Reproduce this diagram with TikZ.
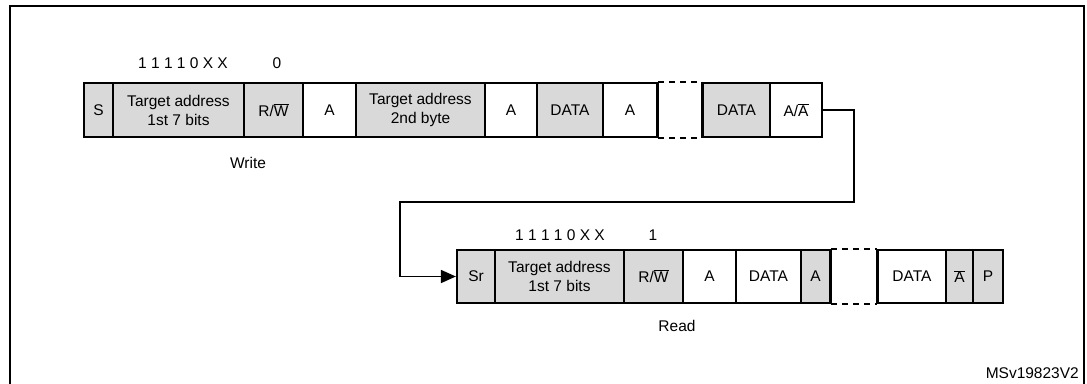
\documentclass[tikz,border=0pt]{standalone}
\usepackage{fontspec}
\setmainfont{Liberation Sans}
\usetikzlibrary{arrows.meta}
\definecolor{boxgray}{RGB}{217,217,217}
\tikzset{
  field/.style={draw=black, line width=2.2pt, inner sep=0pt, align=center,
    font=\fontsize{15.5}{19}\selectfont, text=black},
  gfield/.style={field, fill=boxgray},
  wfield/.style={field, fill=white},
  row1/.style={minimum height=54pt},
  row2/.style={minimum height=53pt},
  lbl/.style={inner sep=0pt, font=\fontsize{15.5}{18}\selectfont, text=black},
  gapline/.style={line width=1.6pt, dash pattern=on 6pt off 5pt},
  edge/.style={line width=2.2pt},
  conn/.style={line width=1.7pt},
  frameline/.style={line width=2.8pt}
}
\begin{document}
\begin{tikzpicture}[x=1pt, y=-1pt]
\useasboundingbox (0,0) rectangle (1087,383);
% frame
\draw[frameline] (10,400) -- (10,6) -- (1084,6) -- (1084,400);
% row 1 (Write)
\node[gfield,row1,minimum width=29pt]  (s)   at (98.5,110) {S};
\node[gfield,row1,minimum width=131pt] (t1)  at (178.5,110) {Target address\\1st 7 bits};
\node[gfield,row1,minimum width=59pt]  (rw1) at (273.5,110) {R/$\overline{\hbox{W}}$};
\node[wfield,row1,minimum width=53pt]  (a1)  at (329.5,110) {A};
\node[gfield,row1,minimum width=129pt] (t2)  at (420.5,110) {Target address\\2nd byte};
\node[wfield,row1,minimum width=52pt]  (a2)  at (511,110) {A};
\node[gfield,row1,minimum width=66pt]  (d1)  at (570,110) {DATA};
\node[wfield,row1,minimum width=54pt]  (a3)  at (630,110) {A};
\node[gfield,row1,minimum width=67pt]  (d2)  at (736.5,110) {DATA};
\node[wfield,row1,minimum width=52pt]  (aa)  at (796,110) {A/$\overline{\hbox{A}}$};
\draw[gapline] (a3.north east) -- (d2.north west);
\draw[gapline] (a3.south east) -- (d2.south west);
\draw[edge] (a3.north east) -- (a3.south east);
\draw[edge] (d2.north west) -- (d2.south west);
\node[lbl] (bits1) at (183,63) {1 1 1 1 0 X X};
\node[lbl] (zero)  at (277,63) {0};
\node[lbl] (write) at (248,163) {Write};
% row 2 (Read)
\node[gfield,row2,minimum width=38pt]  (sr)  at (476,276.5) {Sr};
\node[gfield,row2,minimum width=129pt] (t3)  at (559.5,276.5) {Target address\\1st 7 bits};
\node[gfield,row2,minimum width=59pt]  (rw2) at (653.5,276.5) {R/$\overline{\hbox{W}}$};
\node[wfield,row2,minimum width=53pt]  (a4)  at (709.5,276.5) {A};
\node[wfield,row2,minimum width=65pt]  (d3)  at (768.5,276.5) {DATA};
\node[gfield,row2,minimum width=29pt]  (a5)  at (815.5,276.5) {A};
\node[wfield,row2,minimum width=68pt]  (d4)  at (912,276.5) {DATA};
\node[gfield,row2,minimum width=27pt]  (na)  at (959.5,276.5) {$\overline{\hbox{A}}$};
\node[gfield,row2,minimum width=30pt]  (p)   at (988,276.5) {P};
\draw[gapline] (a5.north east) -- (d4.north west);
\draw[gapline] (a5.south east) -- (d4.south west);
\draw[edge] (a5.north east) -- (a5.south east);
\draw[edge] (d4.north west) -- (d4.south west);
\node[lbl] (bits2) at (560,235) {1 1 1 1 0 X X};
\node[lbl] (one)   at (653,235) {1};
\node[lbl] (read)  at (677,326) {Read};
% connector
\coordinate (c1) at (854,110);
\coordinate (c2) at (854,202);
\coordinate (c3) at (400,202);
\coordinate (c4) at (400,276.5);
\draw[conn, -{Triangle[length=15pt,width=13pt]}] (aa.east) -- (c1) -- (c2) -- (c3) -- (c4) -- (sr.west);
% id
\node[lbl, anchor=east] (id) at (1079,373) {MSv19823V2};
\end{tikzpicture}
\end{document}
